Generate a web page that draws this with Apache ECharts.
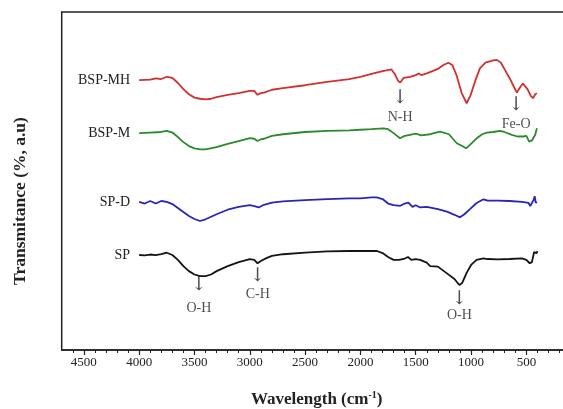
<!DOCTYPE html>
<html>
<head>
<meta charset="utf-8">
<title>FTIR spectra</title>
<script src="https://cdn.jsdelivr.net/npm/echarts@6/dist/echarts.min.js"></script>
<style>
  html, body { margin: 0; padding: 0; background: #fff; overflow: hidden; }
  /* plot frame runs past the right edge of the picture, as in the original */
  #chart { width: 600px; height: 409px; }
</style>
</head>
<body>
<div id="chart"></div>
<script>
// wavenumber (cm-1) / transmittance (a.u., offset per sample)
const bspMhWave = [4000,3900,3850,3800,3750,3700,3650,3600,3550,3500,3450,3400,3350,3300,3200,3100,3000,2960,2930,2900,2870,2800,2700,2500,2300,2100,2000,1900,1800,1720,1690,1660,1640,1610,1550,1500,1470,1450,1400,1300,1250,1205,1170,1130,1085,1040,1005,960,920,870,800,767,730,690,650,610,586,555,532,490,460,440,420,405];
const bspMhT    = [4.79,4.80,4.82,4.81,4.85,4.83,4.74,4.63,4.54,4.48,4.46,4.45,4.46,4.49,4.53,4.56,4.60,4.60,4.53,4.56,4.57,4.62,4.65,4.70,4.76,4.81,4.85,4.90,4.95,4.98,4.90,4.78,4.75,4.83,4.85,4.88,4.91,4.88,4.91,4.99,5.06,5.10,5.06,4.87,4.56,4.38,4.52,4.79,5.00,5.10,5.14,5.15,5.10,4.96,4.82,4.66,4.57,4.67,4.73,4.63,4.51,4.47,4.54,4.56];

const bspMWave = [4000,3900,3800,3750,3700,3650,3600,3550,3500,3450,3400,3300,3200,3100,3000,2960,2930,2900,2870,2800,2700,2500,2300,2100,2000,1900,1793,1750,1700,1642,1600,1552,1500,1450,1370,1280,1200,1129,1080,1044,1010,948,900,857,800,737,700,631,580,527,500,475,450,420,405];
const bspMT    = [3.85,3.86,3.87,3.89,3.86,3.78,3.69,3.62,3.58,3.56,3.56,3.60,3.66,3.71,3.76,3.75,3.71,3.74,3.75,3.80,3.83,3.87,3.89,3.90,3.91,3.92,3.935,3.92,3.85,3.76,3.80,3.82,3.84,3.81,3.83,3.875,3.83,3.67,3.62,3.58,3.64,3.76,3.83,3.86,3.87,3.89,3.87,3.82,3.79,3.79,3.80,3.70,3.72,3.82,3.935];

const spDWave = [4000,3950,3900,3850,3800,3750,3700,3650,3600,3550,3500,3450,3400,3300,3200,3100,3000,2950,2920,2880,2800,2700,2500,2300,2100,2000,1900,1852,1800,1750,1700,1640,1600,1566,1530,1500,1460,1400,1300,1218,1150,1100,1060,1010,950,888,850,760,650,540,480,465,450,435,425,415,405];
const spDT    = [2.63,2.60,2.645,2.60,2.645,2.63,2.59,2.52,2.45,2.38,2.325,2.29,2.32,2.41,2.49,2.54,2.57,2.55,2.53,2.57,2.615,2.64,2.66,2.68,2.69,2.69,2.71,2.71,2.68,2.60,2.57,2.56,2.60,2.615,2.54,2.57,2.53,2.54,2.50,2.455,2.40,2.355,2.41,2.50,2.61,2.675,2.65,2.65,2.645,2.63,2.61,2.555,2.61,2.66,2.73,2.61,2.63];

const spWave = [4000,3950,3900,3850,3800,3750,3700,3650,3600,3550,3500,3450,3400,3350,3300,3200,3100,3000,2960,2930,2900,2850,2800,2700,2500,2300,2100,2000,1850,1800,1750,1700,1650,1600,1570,1540,1500,1460,1400,1370,1300,1218,1150,1106,1080,1040,1000,950,888,850,760,650,540,500,470,450,430,420,410,400];
const spT    = [1.686,1.68,1.695,1.686,1.70,1.727,1.686,1.60,1.49,1.40,1.34,1.31,1.31,1.34,1.40,1.49,1.56,1.615,1.60,1.54,1.58,1.63,1.67,1.70,1.727,1.75,1.757,1.757,1.757,1.72,1.65,1.60,1.60,1.624,1.65,1.60,1.615,1.60,1.55,1.49,1.48,1.36,1.26,1.154,1.19,1.37,1.51,1.60,1.627,1.615,1.61,1.615,1.627,1.60,1.54,1.56,1.74,1.77,1.716,1.757];

const sampleNames = ['BSP-MH', 'BSP-M', 'SP-D', 'SP'];

// band assignments
const peakNames  = ['O-H', 'C-H', 'N-H', 'O-H', 'Fe-O'];
const peakWave   = [3460, 2928, 1641, 1105, 592];
const peakArrowT = [1.145, 1.313, 4.47, 0.905, 4.35];
const peakTextT  = [0.745, 0.994, 4.136, 0.621, 4.01];

const majorTicks = [0, 500, 1000, 1500, 2000, 2500, 3000, 3500, 4000, 4500];
const minorTicks = [];
for (let v = 100; v < 4700; v += 100) minorTicks.push(v);

const serif = '"Liberation Serif", "DejaVu Serif", serif';
const ink = '#222';

const chart = echarts.init(document.getElementById('chart'));

const pairs = (w, t) => w.map((v, i) => [v, t[i]]);

const spectra = [
  { name: sampleNames[0], color: '#d1302e', data: pairs(bspMhWave, bspMhT) },
  { name: sampleNames[1], color: '#2b8a2b', data: pairs(bspMWave, bspMT) },
  { name: sampleNames[2], color: '#2626b8', data: pairs(spDWave, spDT) },
  { name: sampleNames[3], color: '#141414', data: pairs(spWave, spT) }
];

const seriesList = spectra.map(s => ({
  name: s.name,
  type: 'line',
  data: s.data,
  symbol: 'none',
  silent: true,
  lineStyle: { color: s.color, width: 1.8 },
  itemStyle: { color: s.color },
  markPoint: {
    symbol: 'rect',
    symbolSize: 0,
    silent: true,
    data: [{ coord: s.data[0] }],
    label: {
      show: true,
      position: 'left',
      distance: 9,
      formatter: () => s.name,
      color: ink,
      fontFamily: serif,
      fontSize: 14
    }
  }
}));

// arrows
seriesList.push({
  type: 'scatter',
  data: pairs(peakWave, peakArrowT),
  symbolSize: 0,
  silent: true,
  label: {
    show: true,
    position: 'inside',
    formatter: '↓',
    color: ink,
    fontFamily: '"DejaVu Serif", serif',
    fontSize: 19
  }
});

// band labels
seriesList.push({
  type: 'scatter',
  data: pairs(peakWave, peakTextT),
  symbolSize: 0,
  silent: true,
  label: {
    show: true,
    position: 'inside',
    formatter: p => peakNames[p.dataIndex],
    color: ink,
    fontFamily: serif,
    fontSize: 14
  }
});

const option = {
  animation: false,
  backgroundColor: '#fff',
  grid: {
    left: 61.7,
    top: 12,
    width: 520,
    height: 338,
    show: true,
    borderColor: ink,
    borderWidth: 1.5
  },
  xAxis: [
    {
      type: 'value',
      min: 0,
      max: 4700,
      inverse: true,
      position: 'bottom',
      axisLine: { lineStyle: { color: ink, width: 1.5 } },
      axisTick: { customValues: majorTicks, length: 5, lineStyle: { color: ink, width: 1.2 } },
      axisLabel: {
        customValues: majorTicks,
        margin: 6,
        color: ink,
        fontFamily: serif,
        fontSize: 13,
        formatter: v => String(v)
      },
      splitLine: { show: false }
    },
    {
      type: 'value',
      min: 0,
      max: 4700,
      inverse: true,
      position: 'bottom',
      axisLine: { show: false },
      axisTick: { customValues: minorTicks, length: 3, lineStyle: { color: ink, width: 1 } },
      axisLabel: { show: false },
      splitLine: { show: false }
    }
  ],
  yAxis: {
    type: 'value',
    min: 0,
    max: 6,
    interval: 1,
    axisLine: { show: true, lineStyle: { color: ink, width: 1.5 } },
    axisTick: { show: true, length: 5, lineStyle: { color: ink, width: 1.2 } },
    minorTick: { show: true, splitNumber: 5, length: 3, lineStyle: { color: ink, width: 1 } },
    axisLabel: { show: false },
    splitLine: { show: false }
  },
  graphic: [
    {
      type: 'text',
      x: 316.7,
      y: 400,
      style: {
        text: '{b|Wavelength (cm}{s|-1}{b|)}',
        align: 'center',
        verticalAlign: 'middle',
        rich: {
          b: { fontFamily: serif, fontWeight: 'bold', fontSize: 17, fill: ink, lineHeight: 19 },
          s: { fontFamily: serif, fontWeight: 'bold', fontSize: 10, fill: ink, verticalAlign: 'top', lineHeight: 19 }
        }
      }
    },
    {
      type: 'text',
      x: 20,
      y: 201,
      rotation: Math.PI / 2,
      style: {
        text: 'Transmitance (%, a.u)',
        fontFamily: serif,
        fontWeight: 'bold',
        fontSize: 17.5,
        fill: ink,
        align: 'center',
        verticalAlign: 'middle'
      }
    }
  ],
  series: seriesList
};

chart.setOption(option);
</script>
</body>
</html>
